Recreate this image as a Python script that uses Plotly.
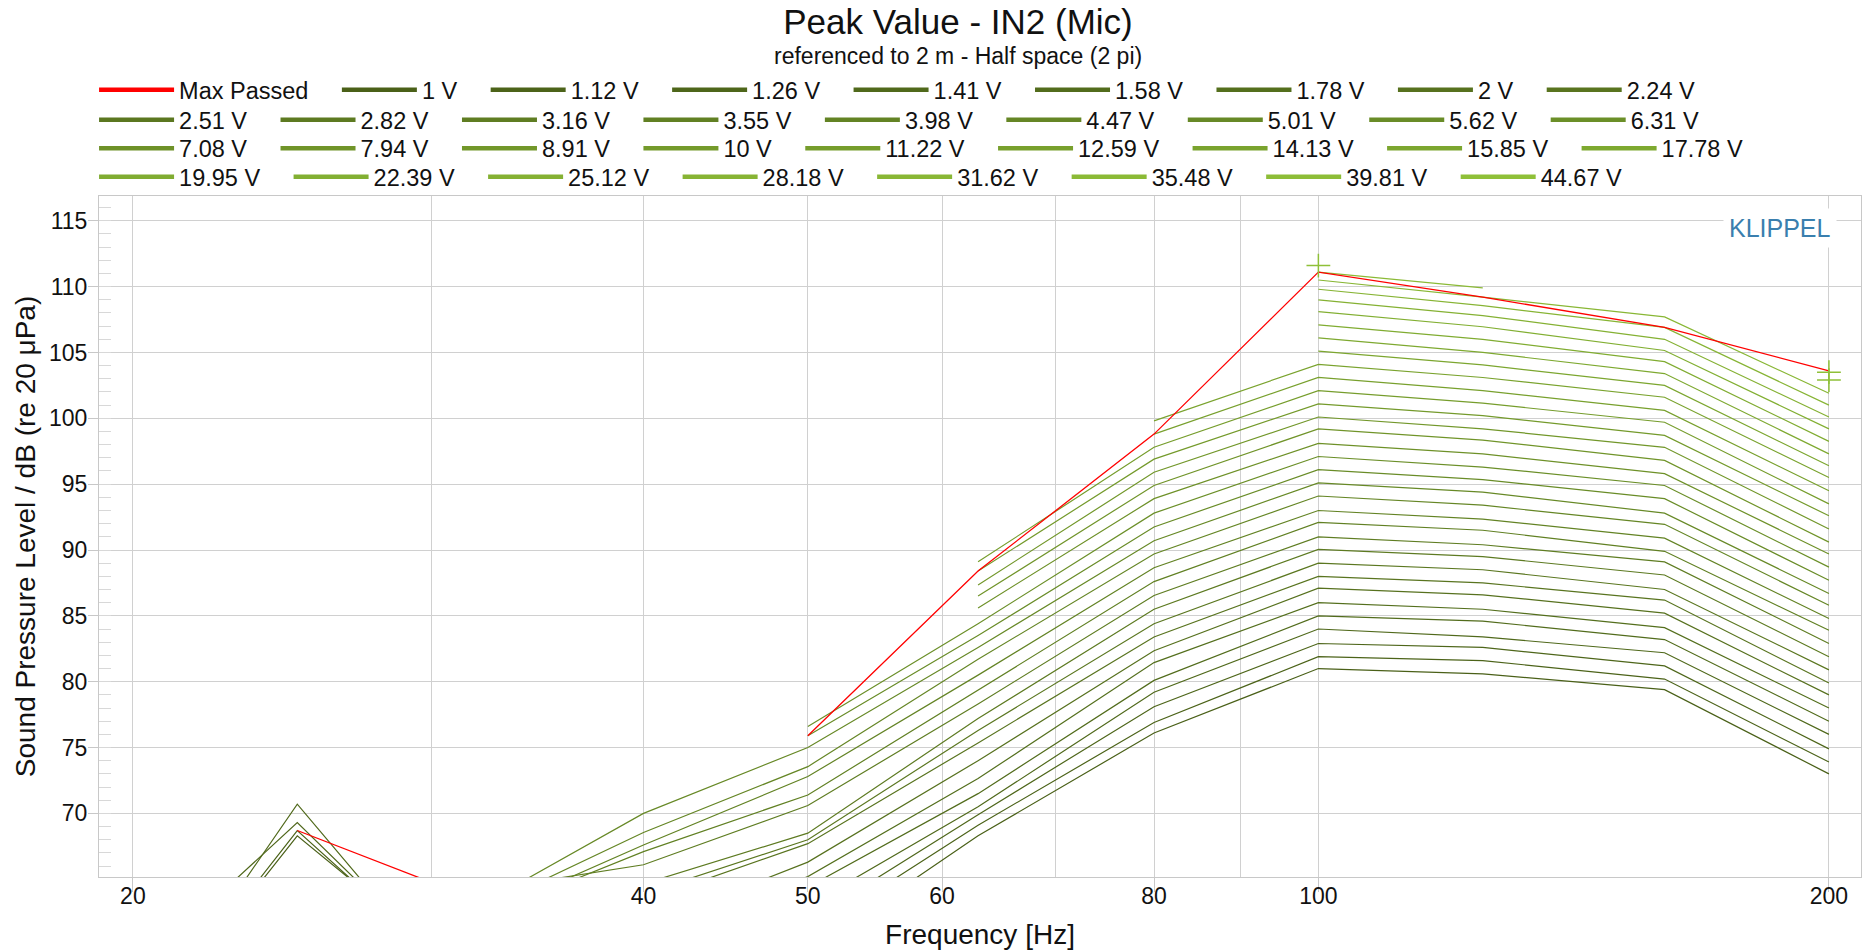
import math
import plotly.graph_objects as go

N = None

# ---------------- data ----------------
FREQS = [20, 25, 31.5, 40, 50, 63, 80, 100, 125, 160, 200]

VOLTAGES = ["1 V", "1.12 V", "1.26 V", "1.41 V", "1.58 V", "1.78 V", "2 V", "2.24 V",
            "2.51 V", "2.82 V", "3.16 V", "3.55 V", "3.98 V", "4.47 V", "5.01 V", "5.62 V",
            "6.31 V", "7.08 V", "7.94 V", "8.91 V", "10 V", "11.22 V", "12.59 V", "14.13 V",
            "15.85 V", "17.78 V", "19.95 V", "22.39 V", "25.12 V", "28.18 V", "31.62 V",
            "35.48 V", "39.81 V", "44.67 V"]

# SPL (dB) of every voltage step (index = voltage step) at each frequency, None = not measured
SPL_20HZ = [52.5, 52.7, 57.8, 52.6, N, N, N, N, N, N, N, N, N, N, N, N, N,
            N, N, N, N, N, N, N, N, N, N, N, N, N, N, N, N, N]
SPL_25HZ = [68.3, 68.7, 69.3, 70.7, N, N, N, N, N, N, N, N, N, N, N, N, N,
            N, N, N, N, N, N, N, N, N, N, N, N, N, N, N, N, N]
SPL_31HZ = [57.7, 57.0, 56.7, 55.4, 55.0, 56.0, 57.0, 58.0, 59.0, 60.0, 64.0, 61.7, 61.7, 62.2, 62.5, N, N,
            N, N, N, N, N, N, N, N, N, N, N, N, N, N, N, N, N]
SPL_40HZ = [56.0, 57.0, 58.0, 59.0, 59.5, 60.5, 61.4, 63.35, 63.9, 64.65, 66.1, 67.1, 67.6, 68.55, 70.0, N, N,
            N, N, N, N, N, N, N, N, N, N, N, N, N, N, N, N, N]
SPL_50HZ = [59.5, 60.8, 61.8, 63.0, 64.4, 65.2, 66.3, 67.7, 68.0, 68.5, 70.6, 71.4, 72.8, 73.55, 75.0, 75.9, 76.6,
            N, N, N, N, N, N, N, N, N, N, N, N, N, N, N, N, N]
SPL_63HZ = [68.3, 69.1, 69.9, 70.5, 71.5, 72.65, 74.0, 75.35, 76.3, 77.2, 78.3, 79.35, 80.5, 81.7, 82.6, 83.5, 84.4,
            85.6, 86.5, 87.35, 88.4, 89.1, N, N, N, N, N, N, N, N, N, N, N, N]
SPL_80HZ = [76.1, 76.9, 78.1, 79.2, 80.1, 81.45, 82.35, 83.4, 84.4, 85.5, 86.55, 87.6, 88.65, 89.7, 90.7, 91.75, 92.8,
            93.9, 94.9, 95.9, 96.9, 97.8, 98.8, 99.8, N, N, N, N, N, N, N, N, N, N]
SPL_100HZ = [81.0, 81.9, 82.9, 84.0, 85.0, 86.0, 87.1, 88.0, 89.0, 90.05, 91.0, 92.1, 93.0, 94.1, 95.1, 96.1, 97.1,
             98.1, 99.2, 100.1, 101.1, 102.1, 103.1, 104.1, 105.1, 106.1, 107.1, 108.1, 109.0, 109.8, 110.5, 111.1, N, N]
SPL_125HZ = [80.6, 81.6, 82.6, 83.4, 84.6, 85.5, 86.6, 87.5, 88.5, 89.5, 90.4, 91.5, 92.35, 93.4, 94.4, 95.35, 96.3,
             97.3, 98.35, 99.2, 100.2, 101.15, 102.1, 103.1, 104.05, 105.0, 106.0, 106.95, 107.8, 108.55, 109.2, 109.9, N, N]
SPL_160HZ = [79.4, 80.2, 81.2, 82.2, 83.2, 84.1, 85.2, 86.2, 87.0, 88.1, 89.1, 89.9, 90.9, 91.95, 92.8, 93.9, 94.9,
             95.8, 96.8, 97.8, 98.7, 99.7, 100.6, 101.6, 102.5, 103.4, 104.3, 105.15, 106.0, 106.9, 107.7, N, N, N]
SPL_200HZ = [73.0, 73.9, 74.9, 76.0, 77.0, 78.0, 79.0, 79.9, 80.9, 81.9, 82.9, 83.9, 84.8, 85.8, 86.7, 87.7, 88.7,
             89.7, 90.6, 91.6, 92.6, 93.5, 94.5, 95.5, 96.4, 97.3, 98.25, 99.2, 100.1, 101.0, 101.9, N, N, N]

MAX_PASSED = [N, 68.7, 63.7, N, 75.9, 88.4, 98.8, 111.1, 109.2, 106.9, 103.6]

# isolated points (drawn as crosses)
CROSS_FREQ = [100, 200, 200]
CROSS_SPL = [111.6, 103.5, 102.9]

X_TICKS = [20, 40, 50, 60, 80, 100, 200]
X_MINOR = [30, 70, 90]

COLUMNS = [SPL_20HZ, SPL_25HZ, SPL_31HZ, SPL_40HZ, SPL_50HZ, SPL_63HZ, SPL_80HZ,
           SPL_100HZ, SPL_125HZ, SPL_160HZ, SPL_200HZ]

# legend rows (number of voltage entries in each row; row 1 also holds "Max Passed")
LEGEND_ROW_SIZES = [8, 9, 9, 8]

# ---------------- style ----------------
FONT = "Liberation Sans, Arial, sans-serif"
DARK = (74, 96, 24)
LIGHT = (143, 192, 56)
PAD = "\u2003"  # trailing em space -> spacing between legend entries


def volt_color(i, n):
    t = i / (n - 1)
    r, g, b = [round(DARK[j] + (LIGHT[j] - DARK[j]) * t) for j in range(3)]
    return f"rgb({r},{g},{b})"


fig = go.Figure()
n = len(VOLTAGES)

# curves (thin)
for i, name in enumerate(VOLTAGES):
    ys = [col[i] for col in COLUMNS]
    fig.add_trace(go.Scatter(x=FREQS, y=ys, mode="lines", name=name,
                             line=dict(color=volt_color(i, n), width=1.2),
                             showlegend=False, hoverinfo="x+y+name"))

fig.add_trace(go.Scatter(x=FREQS, y=MAX_PASSED, mode="lines", name="Max Passed",
                         line=dict(color="#ff0000", width=1.3), showlegend=False))

fig.add_trace(go.Scatter(x=CROSS_FREQ, y=CROSS_SPL, mode="markers", showlegend=False,
                         marker=dict(symbol="cross-thin", size=17,
                                     line=dict(color="rgb(143,192,56)", width=1.5))))

# legend entries (thick swatches), one legend per row
legend_ids = ["legend", "legend2", "legend3", "legend4"]
row_of = []
for r, cnt in enumerate(LEGEND_ROW_SIZES):
    row_of += [r] * cnt

fig.add_trace(go.Scatter(x=[None], y=[None], mode="lines", name="Max Passed" + PAD,
                         line=dict(color="#ff0000", width=4.5), legend="legend"))
for i, name in enumerate(VOLTAGES):
    fig.add_trace(go.Scatter(x=[None], y=[None], mode="lines", name=name + PAD,
                             line=dict(color=volt_color(i, n), width=4.5),
                             legend=legend_ids[row_of[i]]))

# plot area in px: left 99, right 1861, top 196, bottom 877
ROW_Y_PX = [90, 120, 148.5, 177]
PLOT_TOP, PLOT_BOTTOM = 196, 877
ph = PLOT_BOTTOM - PLOT_TOP


def legend_cfg(ypx):
    return dict(orientation="h", x=-0.0028, xanchor="left",
                y=(PLOT_BOTTOM - ypx) / ph, yanchor="middle",
                font=dict(family=FONT, size=23.5, color="#111111"), itemwidth=75,
                traceorder="normal", bgcolor="rgba(0,0,0,0)", borderwidth=0)


GRID = "#d0d0d0"
fig.update_layout(
    width=1863, height=950,
    paper_bgcolor="white", plot_bgcolor="white",
    font=dict(family=FONT, size=23, color="#111111"),
    margin=dict(l=99, r=2, t=196, b=73, autoexpand=False),
    title=dict(text="Peak Value - IN2 (Mic)", font=dict(family=FONT, size=35, color="#111111"),
               x=958 / 1863, xanchor="center", xref="container",
               y=1 - 21.5 / 950, yanchor="middle", yref="container"),
    showlegend=True,
    legend=legend_cfg(ROW_Y_PX[0]),
    legend2=legend_cfg(ROW_Y_PX[1]),
    legend3=legend_cfg(ROW_Y_PX[2]),
    legend4=legend_cfg(ROW_Y_PX[3]),
    annotations=[
        dict(text="referenced to 2 m - Half space (2 pi)", xref="paper", yref="paper",
             x=(958 - 99) / 1761, y=(PLOT_BOTTOM - 56) / ph, xanchor="center", yanchor="middle",
             showarrow=False, font=dict(family=FONT, size=23, color="#111111")),
        dict(text="KLIPPEL", xref="paper", yref="paper", x=0.954, y=0.953,
             xanchor="center", yanchor="middle", showarrow=False,
             font=dict(family=FONT, size=25, color="#3a7fae"),
             bgcolor="white", borderpad=5),
    ],
)

fig.update_xaxes(type="log", range=[math.log10(19.1), math.log10(208.9)],
                 tickmode="array", tickvals=X_TICKS, ticktext=[str(v) for v in X_TICKS],
                 ticks="outside", ticklen=14, tickcolor="#c8c8c8", ticklabelstandoff=-16,
                 showgrid=True, gridcolor=GRID, gridwidth=1,
                 showline=True, linecolor="#c8c8c8", mirror=True, zeroline=False,
                 minor=dict(tickmode="array", tickvals=X_MINOR, showgrid=True, gridcolor=GRID, ticks=""),
                 title=dict(text="Frequency [Hz]", standoff=16),
                 tickfont=dict(size=23))

fig.update_yaxes(range=[65.17, 116.88], tickmode="linear", tick0=65, dtick=5,
                 ticks="outside", ticklen=10, tickcolor="#c8c8c8", ticklabelstandoff=-4,
                 showgrid=True, gridcolor=GRID, gridwidth=1,
                 showline=True, linecolor="#c8c8c8", mirror=True, zeroline=False,
                 minor=dict(dtick=1, ticks="inside", ticklen=12, tickcolor="#d8d8d8", showgrid=False),
                 title=dict(text="Sound Pressure Level / dB (re 20 μPa)", standoff=5),
                 tickfont=dict(size=23))

fig.write_html("out.html", config={"displayModeBar": False},
               post_script="document.body.style.margin='0';")
